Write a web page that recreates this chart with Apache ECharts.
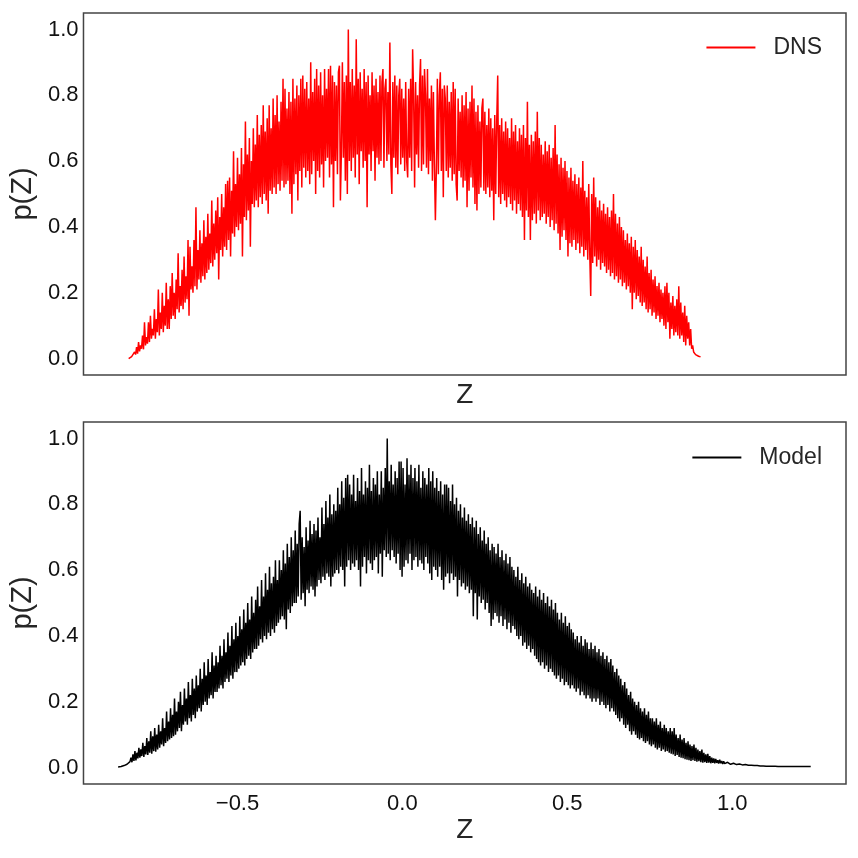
<!DOCTYPE html>
<html><head><meta charset="utf-8">
<script src="https://cdn.jsdelivr.net/npm/echarts@6/dist/echarts.min.js"></script>
<style>html,body{margin:0;padding:0;background:#fff}#c{width:858px;height:858px}</style>
</head><body><div id="c"></div>
<script>
// ---- data ----
const seriesNames = ['DNS', 'Model'];
const zTicks = [-0.5, 0.0, 0.5, 1.0];
const pTicks = [0.0, 0.2, 0.4, 0.6, 0.8, 1.0];
const zRange = [-0.967, 1.345];
const pRange = [-0.05, 1.05];

// histogram bins (centre of first bin, bin width)
const dnsZStart = -0.830, dnsZStep = 0.003;
const dnsP = [
0.000,0.002,0.004,0.006,0.010,0.008,0.020,0.012,0.035,0.015,0.050,0.022,0.040,0.030,0.070,0.028,0.11,0.040,0.065,0.045,
0.11,0.05,0.13,0.06,0.09,0.07,0.15,0.06,0.12,0.08,0.21,0.07,0.14,0.09,0.20,0.08,0.16,0.10,0.23,0.09,
0.18,0.09,0.22,0.12,0.26,0.13,0.20,0.12,0.24,0.15,0.32,0.14,0.22,0.16,0.27,0.15,0.31,0.17,0.25,0.18,
0.36,0.13,0.34,0.21,0.28,0.20,0.36,0.22,0.46,0.21,0.33,0.24,0.39,0.23,0.35,0.25,0.42,0.24,0.37,0.26,
0.44,0.27,0.38,0.29,0.48,0.28,0.41,0.30,0.45,0.32,0.49,0.24,0.43,0.33,0.50,0.31,0.46,0.34,0.53,0.33,
0.54,0.36,0.55,0.31,0.51,0.38,0.63,0.37,0.53,0.40,0.61,0.39,0.56,0.41,0.64,0.31,0.59,0.43,0.72,0.42,
0.62,0.45,0.67,0.34,0.60,0.47,0.70,0.46,0.65,0.48,0.74,0.46,0.68,0.49,0.71,0.47,0.77,0.50,0.69,0.48,
0.73,0.44,0.77,0.51,0.70,0.50,0.79,0.52,0.74,0.50,0.80,0.53,0.72,0.51,0.78,0.54,0.85,0.52,0.82,0.53,
0.76,0.54,0.81,0.50,0.78,0.44,0.85,0.53,0.79,0.56,0.83,0.48,0.80,0.57,0.85,0.52,0.86,0.58,0.82,0.55,
0.84,0.57,0.79,0.53,0.90,0.56,0.81,0.60,0.85,0.50,0.88,0.57,0.83,0.55,0.87,0.59,0.80,0.52,0.88,0.60,
0.82,0.61,0.88,0.55,0.89,0.59,0.86,0.46,0.84,0.60,0.83,0.56,0.87,0.89,0.48,0.63,0.90,0.61,0.84,0.54,
0.86,0.50,1.00,0.60,0.84,0.57,0.88,0.61,0.83,0.55,0.97,0.62,0.85,0.53,0.87,0.63,0.82,0.58,0.88,0.60,
0.84,0.46,0.86,0.62,0.80,0.57,0.87,0.63,0.83,0.54,0.85,0.61,0.81,0.59,0.86,0.60,0.84,0.88,0.58,0.82,
0.85,0.60,0.81,0.62,0.96,0.59,0.50,0.84,0.61,0.86,0.58,0.83,0.56,0.80,0.85,0.59,0.82,0.61,0.79,0.57,
0.84,0.60,0.55,0.82,0.61,0.85,0.57,0.94,0.80,0.52,0.84,0.62,0.80,0.58,0.83,0.91,0.57,0.86,0.59,0.88,
0.80,0.58,0.88,0.56,0.79,0.60,0.83,0.54,0.81,0.59,0.42,0.58,0.85,0.56,0.80,0.87,0.57,0.82,0.49,0.83,
0.79,0.57,0.83,0.55,0.78,0.58,0.81,0.54,0.84,0.56,0.82,0.53,0.48,0.79,0.57,0.75,0.55,0.80,0.52,0.77,
0.54,0.81,0.46,0.76,0.51,0.78,0.55,0.83,0.52,0.79,0.47,0.75,0.45,0.77,0.50,0.72,0.52,0.76,0.79,0.51,
0.75,0.50,0.71,0.52,0.76,0.49,0.73,0.51,0.70,0.42,0.74,0.50,0.72,0.86,0.49,0.71,0.47,0.73,0.50,0.69,
0.48,0.72,0.46,0.70,0.49,0.67,0.47,0.73,0.45,0.69,0.48,0.71,0.44,0.66,0.47,0.70,0.45,0.68,0.43,0.71,
0.36,0.67,0.45,0.78,0.43,0.65,0.36,0.68,0.42,0.66,0.44,0.69,0.41,0.75,0.45,0.67,0.42,0.65,0.43,0.62,
0.44,0.66,0.41,0.63,0.43,0.65,0.40,0.61,0.42,0.64,0.39,0.71,0.41,0.62,0.38,0.59,0.33,0.61,0.37,0.58,
0.39,0.60,0.36,0.57,0.31,0.55,0.35,0.58,0.34,0.54,0.36,0.56,0.33,0.53,0.35,0.55,0.32,0.52,0.34,0.60,
0.31,0.51,0.33,0.49,0.30,0.53,0.32,0.19,0.50,0.29,0.55,0.31,0.49,0.28,0.46,0.30,0.48,0.27,0.45,0.29,
0.47,0.28,0.44,0.26,0.46,0.27,0.43,0.25,0.45,0.26,0.50,0.24,0.44,0.25,0.41,0.23,0.43,0.24,0.40,0.22,
0.39,0.23,0.36,0.21,0.38,0.22,0.35,0.20,0.37,0.15,0.34,0.20,0.36,0.18,0.33,0.19,0.31,0.17,0.34,0.16,
0.30,0.17,0.28,0.15,0.31,0.14,0.26,0.15,0.27,0.13,0.24,0.14,0.25,0.12,0.22,0.13,0.23,0.11,0.21,0.12,
0.20,0.10,0.22,0.09,0.23,0.11,0.20,0.06,0.17,0.09,0.19,0.07,0.16,0.08,0.18,0.07,0.22,0.06,0.17,0.07,
0.14,0.05,0.16,0.04,0.13,0.06,0.11,0.04,0.09,0.03,0.04,0.02,0.015,0.012,0.010,0.008,0.007,0.006,0.005
];

const modelZStart = -0.862, modelZStep = 0.003;
const modelP = [
0.002,0.002,0.003,0.003,0.004,0.005,0.006,0.007,0.008,0.010,0.012,0.014,0.018,0.030,0.016,0.040,0.020,0.050,0.022,0.045,
0.028,0.060,0.030,0.055,0.035,0.075,0.032,0.065,0.040,0.090,0.038,0.080,0.045,0.11,0.042,0.095,0.050,0.12,0.048,0.10,
0.055,0.13,0.060,0.11,0.070,0.15,0.065,0.12,0.075,0.17,0.080,0.14,0.085,0.18,0.090,0.16,0.095,0.21,0.10,0.17,
0.11,0.20,0.12,0.23,0.11,0.19,0.13,0.24,0.14,0.21,0.13,0.26,0.15,0.22,0.14,0.27,0.16,0.24,0.15,0.28,
0.17,0.25,0.18,0.30,0.17,0.27,0.19,0.32,0.20,0.28,0.19,0.33,0.21,0.29,0.22,0.35,0.21,0.31,0.23,0.34,
0.23,0.32,0.24,0.37,0.25,0.34,0.24,0.39,0.26,0.35,0.27,0.41,0.26,0.37,0.28,0.43,0.27,0.39,0.29,0.44,
0.29,0.40,0.30,0.46,0.31,0.42,0.32,0.48,0.31,0.44,0.33,0.50,0.34,0.45,0.33,0.52,0.35,0.47,0.36,0.51,
0.36,0.55,0.37,0.49,0.39,0.57,0.38,0.52,0.40,0.59,0.39,0.54,0.41,0.61,0.40,0.56,0.42,0.58,0.41,0.63,
0.43,0.57,0.44,0.63,0.45,0.60,0.46,0.66,0.45,0.62,0.42,0.68,0.48,0.64,0.47,0.70,0.49,0.66,0.50,0.72,
0.50,0.68,0.52,0.74,0.78,0.51,0.70,0.53,0.67,0.49,0.73,0.54,0.69,0.53,0.75,0.55,0.71,0.54,0.74,0.52,
0.72,0.55,0.76,0.57,0.70,0.56,0.79,0.58,0.74,0.57,0.81,0.59,0.76,0.58,0.83,0.55,0.77,0.58,0.80,0.59,
0.78,0.60,0.85,0.59,0.80,0.61,0.87,0.60,0.82,0.55,0.88,0.61,0.89,0.63,0.86,0.60,0.83,0.62,0.89,0.61,
0.81,0.63,0.88,0.60,0.84,0.55,0.91,0.61,0.83,0.64,0.87,0.59,0.85,0.63,0.92,0.62,0.84,0.60,0.88,0.63,
0.86,0.64,0.90,0.59,0.83,0.65,0.90,0.58,0.85,0.66,0.91,0.64,1.00,0.65,0.87,0.63,0.92,0.66,0.86,0.64,
0.90,0.62,0.88,0.65,0.93,0.60,0.93,0.58,0.91,0.61,0.86,0.63,0.94,0.62,0.89,0.65,0.92,0.60,0.88,0.63,
0.91,0.64,0.87,0.61,0.92,0.63,0.85,0.62,0.90,0.60,0.88,0.64,0.86,0.62,0.91,0.59,0.87,0.57,0.90,0.61,
0.85,0.60,0.88,0.58,0.84,0.61,0.87,0.57,0.83,0.54,0.86,0.58,0.86,0.59,0.85,0.56,0.81,0.59,0.86,0.57,
0.80,0.58,0.82,0.52,0.78,0.57,0.80,0.55,0.76,0.56,0.79,0.54,0.75,0.55,0.77,0.53,0.74,0.54,0.76,0.46,
0.73,0.53,0.75,0.45,0.71,0.52,0.73,0.50,0.69,0.51,0.72,0.48,0.68,0.50,0.70,0.47,0.66,0.43,0.68,0.45,
0.67,0.47,0.65,0.46,0.68,0.44,0.64,0.46,0.66,0.43,0.63,0.45,0.65,0.42,0.62,0.44,0.64,0.41,0.61,0.43,
0.60,0.42,0.58,0.40,0.61,0.39,0.57,0.40,0.59,0.37,0.56,0.38,0.58,0.36,0.55,0.37,0.56,0.35,0.54,0.36,
0.53,0.34,0.55,0.33,0.52,0.32,0.54,0.31,0.51,0.32,0.53,0.30,0.50,0.31,0.52,0.29,0.49,0.30,0.51,0.29,
0.48,0.28,0.50,0.27,0.47,0.28,0.45,0.26,0.47,0.27,0.44,0.25,0.46,0.26,0.43,0.25,0.44,0.24,0.42,0.25,
0.41,0.24,0.39,0.23,0.40,0.24,0.38,0.22,0.40,0.23,0.37,0.22,0.39,0.21,0.38,0.22,0.36,0.21,0.38,0.20,
0.36,0.21,0.37,0.20,0.35,0.21,0.36,0.19,0.34,0.20,0.35,0.19,0.33,0.18,0.34,0.19,0.32,0.17,0.33,0.18,
0.31,0.17,0.29,0.16,0.30,0.15,0.28,0.14,0.27,0.15,0.25,0.13,0.26,0.12,0.24,0.13,0.22,0.11,0.23,0.10,
0.21,0.11,0.20,0.10,0.19,0.09,0.20,0.085,0.18,0.09,0.17,0.08,0.18,0.075,0.16,0.08,0.17,0.07,0.15,0.065,
0.15,0.07,0.14,0.06,0.15,0.055,0.13,0.06,0.14,0.05,0.12,0.055,0.13,0.048,0.12,0.05,0.11,0.045,0.12,0.042,
0.11,0.040,0.12,0.035,0.10,0.038,0.09,0.032,0.10,0.030,0.085,0.028,0.09,0.025,0.075,0.024,0.08,0.022,0.07,0.020,
0.065,0.022,0.07,0.020,0.06,0.018,0.055,0.019,0.05,0.016,0.055,0.015,0.045,0.016,0.04,0.014,0.042,0.015,0.035,0.013,
0.030,0.014,0.028,0.013,0.026,0.014,0.022,0.012,0.024,0.013,0.020,0.011,0.019,0.012,0.017,0.011,0.016,0.010,0.015,0.010,
0.014,0.010,0.013,0.009,0.012,0.009,0.011,0.008,0.011,0.008,0.010,0.008,0.009,0.007,0.009,0.007,0.008,0.007,0.008,0.006,
0.007,0.006,0.007,0.006,0.006,0.006,0.006,0.005,0.006,0.005,0.005,0.005,0.005,0.005,0.005,0.004,0.005,0.004,0.004,0.004,
0.004,0.004,0.004,0.004,0.004,0.003,0.004,0.003,0.003,0.003,0.003,0.003,0.003,0.003,0.003,0.003,0.003,0.003,0.003,0.003,
0.003,0.003,0.003,0.003,0.003,0.003,0.003,0.003,0.003,0.003,0.003,0.003,0.003,0.003,0.003,0.003,0.003,0.003,0.003,0.003,0.003
];

// ---- chart ----
const FONT = 'Liberation Sans, Arial, sans-serif';
const toPairs = (z0, dz, arr) => arr.map((p, i) => [+(z0 + i * dz).toFixed(4), p]);
const fmtZ = v => (v < 0 ? '\u2212' : '') + Math.abs(v).toFixed(1);

function xAxisCfg(gridIndex, showLabels, nameGap) {
  return {
    type: 'value', gridIndex, min: zRange[0], max: zRange[1],
    name: 'Z', nameLocation: 'middle', nameGap,
    nameTextStyle: { fontFamily: FONT, fontSize: 28, color: '#262626' },
    axisLine: { show: false }, axisTick: { show: false }, splitLine: { show: false },
    axisLabel: { show: showLabels, customValues: zTicks, formatter: fmtZ, margin: 9,
      fontFamily: FONT, fontSize: 22, color: '#111' }
  };
}
function yAxisCfg(gridIndex) {
  return {
    type: 'value', gridIndex, min: pRange[0], max: pRange[1],
    name: 'p(Z)', nameLocation: 'middle', nameGap: 37, nameRotate: 90,
    nameTextStyle: { fontFamily: FONT, fontSize: 29, color: '#262626' },
    axisLine: { show: false }, axisTick: { show: false }, splitLine: { show: false },
    axisLabel: { customValues: pTicks, formatter: v => v.toFixed(1), margin: 5,
      fontFamily: FONT, fontSize: 22, color: '#111' }
  };
}

const chart = echarts.init(document.getElementById('c'), null, { renderer: 'canvas' });
chart.setOption({
  animation: false,
  backgroundColor: '#fff',
  grid: [
    { left: 83, top: 13, width: 763, height: 362, show: true, borderColor: '#444', borderWidth: 1.5, backgroundColor: 'transparent' },
    { left: 83, top: 422, width: 763, height: 362, show: true, borderColor: '#444', borderWidth: 1.5, backgroundColor: 'transparent' }
  ],
  xAxis: [xAxisCfg(0, false, 6), xAxisCfg(1, true, 32)],
  yAxis: [yAxisCfg(0), yAxisCfg(1)],
  legend: [
    { data: [seriesNames[0]], right: 31, top: 31, icon: 'rect', itemWidth: 49, itemHeight: 2,
      textStyle: { fontFamily: FONT, fontSize: 23, color: '#262626', padding: [0, 0, 0, 13] } },
    { data: [seriesNames[1]], right: 31, top: 441, icon: 'rect', itemWidth: 49, itemHeight: 2,
      textStyle: { fontFamily: FONT, fontSize: 23, color: '#262626', padding: [0, 0, 0, 13] } }
  ],
  series: [
    { name: seriesNames[0], type: 'line', xAxisIndex: 0, yAxisIndex: 0, showSymbol: false, sampling: null,
      color: '#ff0000', lineStyle: { width: 1.5, color: '#ff0000' },
      data: toPairs(dnsZStart, dnsZStep, dnsP) },
    { name: seriesNames[1], type: 'line', xAxisIndex: 1, yAxisIndex: 1, showSymbol: false, sampling: null,
      color: '#000000', lineStyle: { width: 1.5, color: '#000000' },
      data: toPairs(modelZStart, modelZStep, modelP) }
  ]
});
</script></body></html>
